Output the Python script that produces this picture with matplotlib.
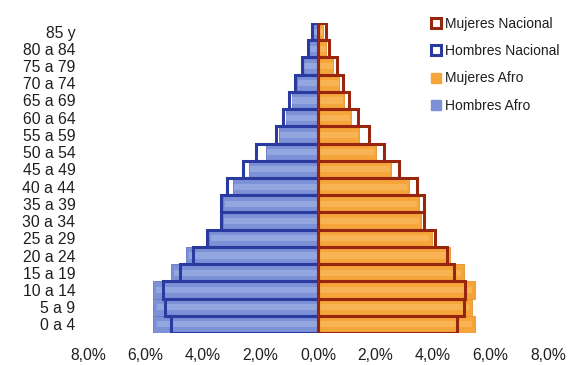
import matplotlib
matplotlib.use("Agg")
import matplotlib.pyplot as plt
from matplotlib.lines import Line2D
from matplotlib.ticker import FuncFormatter, MultipleLocator
import numpy as np

plt.rcParams['font.family'] = ['Liberation Sans', 'DejaVu Sans']

# Age groups, youngest first
grupos = ["0 a 4", "5 a 9", "10 a 14", "15 a 19", "20 a 24", "25 a 29",
          "30 a 34", "35 a 39", "40 a 44", "45 a 49", "50 a 54", "55 a 59",
          "60 a 64", "65 a 69", "70 a 74", "75 a 79", "80 a 84", "85 y"]

# Share of the population (%)
hombres_nacional = [5.10, 5.31, 5.38, 4.79, 4.34, 3.85, 3.36, 3.36, 3.18,
                    2.62, 2.17, 1.47, 1.22, 1.01, 0.80, 0.56, 0.35, 0.21]
hombres_afro = [5.73, 5.73, 5.75, 5.12, 4.58, 3.80, 3.32, 3.29, 2.97,
                2.41, 1.82, 1.35, 1.12, 0.92, 0.72, 0.50, 0.30, 0.18]
mujeres_nacional = [4.83, 5.07, 5.10, 4.72, 4.48, 4.06, 3.67, 3.67, 3.43,
                    2.83, 2.31, 1.78, 1.40, 1.08, 0.87, 0.66, 0.38, 0.28]
mujeres_afro = [5.45, 5.35, 5.45, 5.07, 4.58, 3.95, 3.57, 3.50, 3.15,
                2.55, 2.03, 1.43, 1.15, 0.90, 0.73, 0.52, 0.28, 0.17]

C_HN = "#2a3a9e"   # hombres nacional (outline)
C_HA = "#7c91d6"   # hombres afro (fill)
C_MN = "#98260f"   # mujeres nacional (outline)
C_MA = "#f5a53a"   # mujeres afro (fill)
TXT = "#1e1e1e"

W, H = 575, 365
fig = plt.figure(figsize=(W / 100, H / 100), dpi=100)
fig.patch.set_facecolor("white")
ax = fig.add_axes([88 / W, 1 - 333 / H, (548 - 88) / W, (333 - 23) / H])

y = np.arange(len(grupos))
ha = np.array(hombres_afro)
ma = np.array(mujeres_afro)

# Afro population as filled bars with a soft highlight in the middle
ax.barh(y, -ha, height=1.0, color=C_HA, edgecolor="#6476c4", linewidth=0.6, zorder=2)
ax.barh(y, ma, height=1.0, color=C_MA, edgecolor="#e8922a", linewidth=0.6, zorder=2)
ax.barh(y, -ha * 0.98, height=0.35, color="#a9b8e8", alpha=0.55, linewidth=0, zorder=2.5)
ax.barh(y, ma * 0.98, height=0.35, color="#fbc270", alpha=0.5, linewidth=0, zorder=2.5)

# National population as outlined bars
ax.barh(y, -np.array(hombres_nacional), height=1.0, fill=False,
        edgecolor=C_HN, linewidth=2.2, zorder=3)
ax.barh(y, np.array(mujeres_nacional), height=1.0, fill=False,
        edgecolor=C_MN, linewidth=2.2, zorder=4)

ax.set_xlim(-8, 8)
ax.set_ylim(-0.5, len(grupos) - 0.5)
ax.xaxis.set_major_locator(MultipleLocator(2))
ax.xaxis.set_major_formatter(FuncFormatter(lambda v, p: f"{abs(v):.1f}%".replace(".", ",")))
ax.set_yticks(y)
ax.set_yticklabels(grupos)
ax.tick_params(axis="both", length=0, colors=TXT, labelsize=11.3)
ax.tick_params(axis="y", pad=9)
ax.tick_params(axis="x", pad=11)
for s in ax.spines.values():
    s.set_visible(False)

handles = [
    Line2D([], [], linestyle="none", marker="s", markersize=7.5,
           markerfacecolor="white", markeredgecolor=C_MN, markeredgewidth=2.2),
    Line2D([], [], linestyle="none", marker="s", markersize=7.5,
           markerfacecolor="white", markeredgecolor=C_HN, markeredgewidth=2.2),
    Line2D([], [], linestyle="none", marker="s", markersize=6.5,
           markerfacecolor=C_MA, markeredgecolor=C_MA),
    Line2D([], [], linestyle="none", marker="s", markersize=6.5,
           markerfacecolor=C_HA, markeredgecolor=C_HA),
]
labels = ["Mujeres Nacional", "Hombres Nacional", "Mujeres Afro", "Hombres Afro"]
leg = fig.legend(handles, labels, loc="upper left", bbox_to_anchor=(430 / W, 1 - 17 / H),
                 frameon=False, fontsize=10, handlelength=0.8, handletextpad=0.3,
                 labelspacing=0.95, borderaxespad=0, borderpad=0)
for t in leg.get_texts():
    t.set_color(TXT)

fig.savefig("out.png", dpi=100, facecolor="white")
